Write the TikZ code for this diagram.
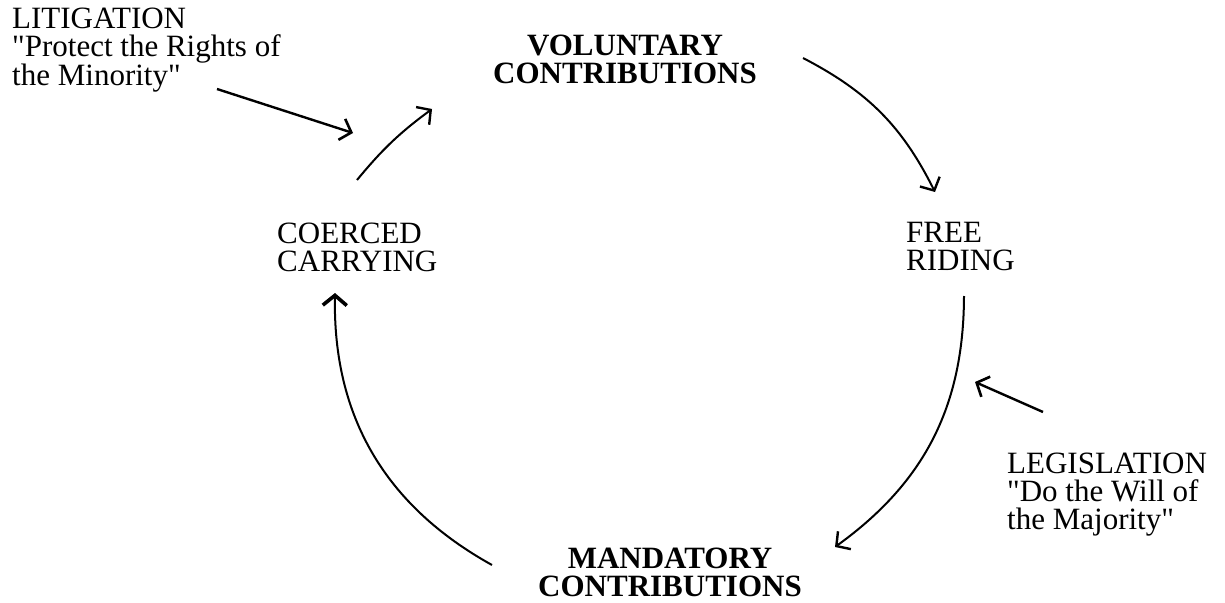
\documentclass[tikz,border=0pt]{standalone}
\usepackage{fontspec}
\setmainfont{Liberation Serif}
\usetikzlibrary{arrows.meta}
\begin{document}
\begin{tikzpicture}[x=1pt,y=-1pt,
  lbl/.style={inner sep=0pt, align=left, font=\fontsize{31}{28}\selectfont},
  hub/.style={inner sep=0pt, align=center, font=\fontsize{31}{28}\selectfont\bfseries},
  flow/.style={line width=2pt, -{Straight Barb[length=10pt,width=22pt,line width=2.4pt]}},
  push/.style={line width=2.4pt, -{Straight Barb[length=10pt,width=22pt,line width=2.6pt]}}]
\useasboundingbox (0,0) rectangle (1225,602);

% stages of the cycle
\node[hub, anchor=north] (vol) at (625,34.7) {VOLUNTARY\\CONTRIBUTIONS};
\node[lbl, anchor=north west] (free) at (906,221.7) {FREE\\RIDING};
\node[hub, anchor=north] (mand) at (670,548) {MANDATORY\\CONTRIBUTIONS};
\node[lbl, anchor=north west] (coer) at (277,222.7) {COERCED\\CARRYING};

% outside forces
\node[lbl, anchor=north west] (lit) at (12,7.7)
  {LITIGATION\\\textquotedbl Protect the Rights of\\the Minority\textquotedbl};
\node[lbl, anchor=north west] (leg) at (1007,452.7)
  {LEGISLATION\\\textquotedbl Do the Will of\\the Majority\textquotedbl};

% arrow end points
\coordinate (vf1) at (803,58);   \coordinate (vf2) at (935,192);
\coordinate (fm1) at (964,296);  \coordinate (fm2) at (835,547);
\coordinate (mc1) at (492,565);  \coordinate (mc2) at (335,293);
\coordinate (cv1) at (357,180);  \coordinate (cv2) at (432,109);
\coordinate (lt1) at (217,89);   \coordinate (lt2) at (353,133);
\coordinate (lg1) at (1043,412); \coordinate (lg2) at (975,382);

% the cycle
\draw[flow] (vf1) to[bend left=18] (vf2);
\draw[flow] (fm1) to[bend left=27] (fm2);
\draw[flow, -{Straight Barb[length=10pt,width=24pt,line width=3.6pt]}] (mc1) to[bend left=31] (mc2);
\draw[flow] (cv1) to[bend left=7] (cv2);

% pressures on the cycle
\draw[push] (lt1) -- (lt2);
\draw[push] (lg1) -- (lg2);
\end{tikzpicture}
\end{document}
